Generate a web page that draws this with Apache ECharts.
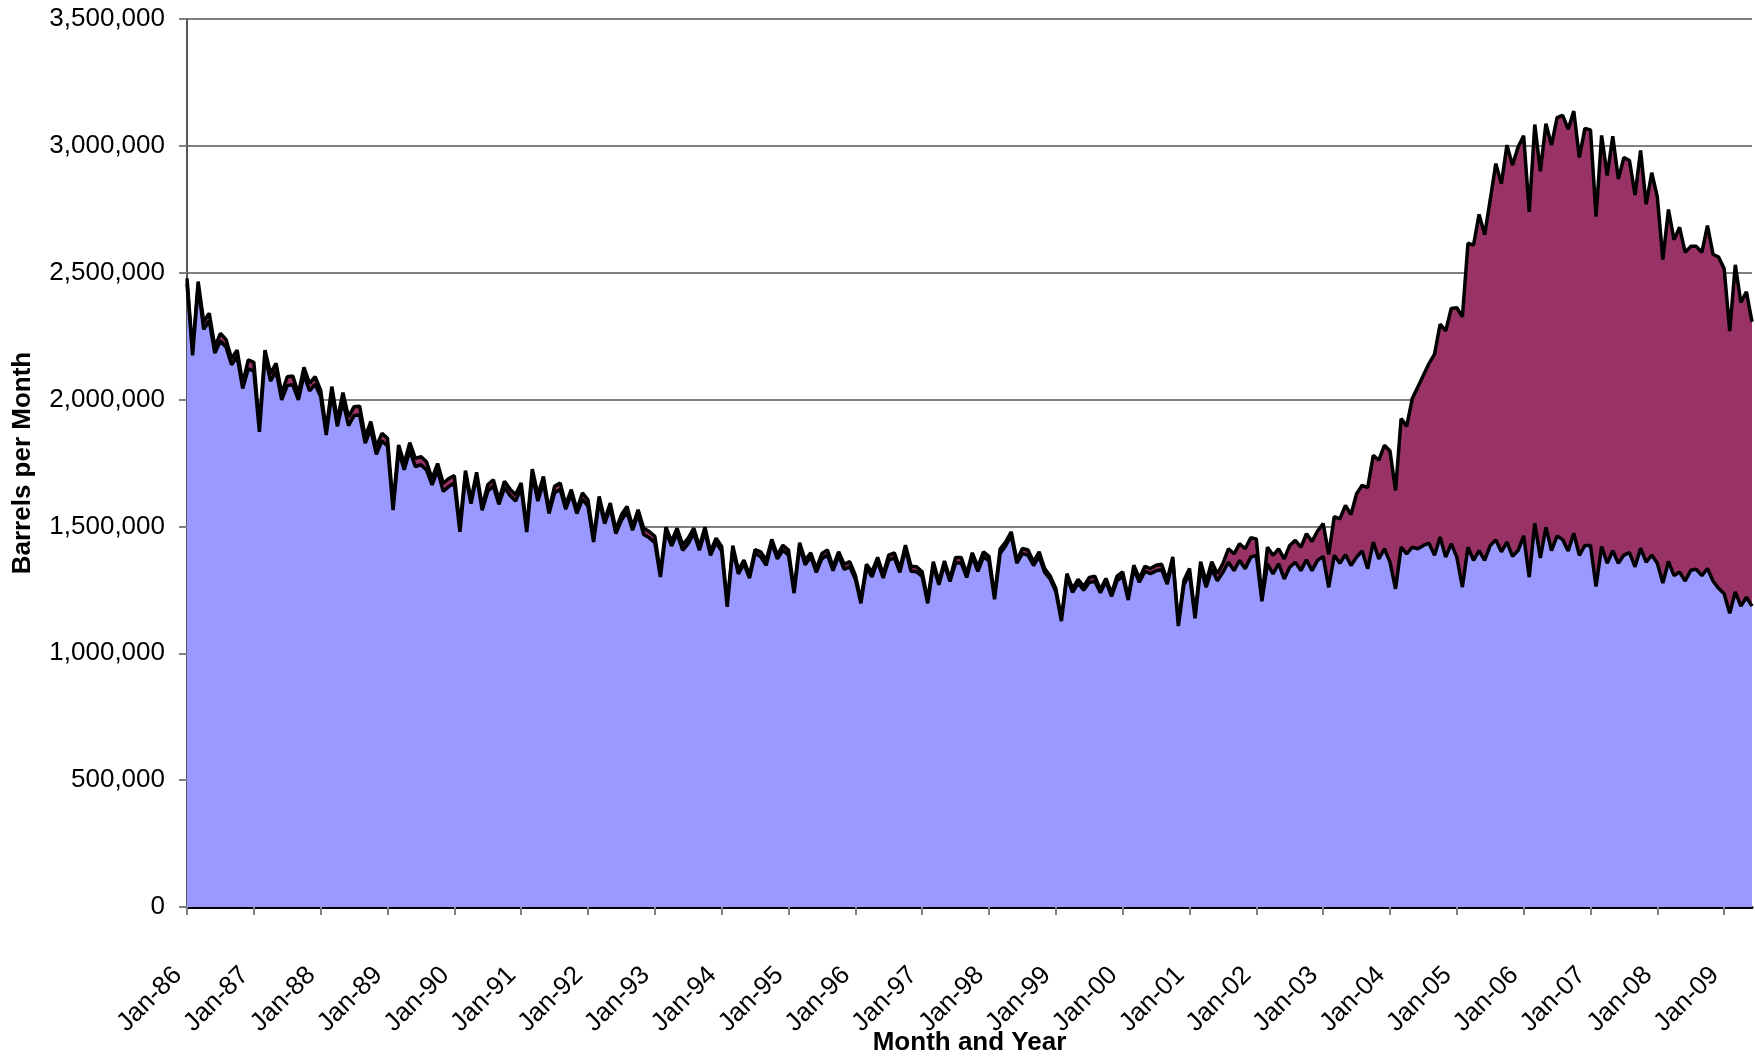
<!DOCTYPE html>
<html>
<head>
<meta charset="utf-8">
<script src="https://cdn.jsdelivr.net/npm/echarts@6/dist/echarts.min.js"></script>
<style>
  html, body { margin: 0; padding: 0; background: #fff; }
  #chart { width: 1755px; height: 1056px; }
</style>
</head>
<body>
<div id="chart"></div>
<script>
// monthly, Jan-86 .. Jun-09
const monthNames = ['Jan', 'Feb', 'Mar', 'Apr', 'May', 'Jun', 'Jul', 'Aug', 'Sep', 'Oct', 'Nov', 'Dec']
const firstYear = 1986
const monthCount = 282

// lower (blue) band, thousand barrels per month
const blueBand = [
  2458, 2174, 2445, 2277, 2310, 2183, 2231, 2207, 2137, 2170, 2044, 2121,
  2112, 1873, 2170, 2073, 2113, 1999, 2055, 2058, 1999, 2097, 2034, 2060,
  2012, 1860, 2026, 1894, 1992, 1897, 1937, 1939, 1828, 1883, 1784, 1837,
  1817, 1564, 1796, 1723, 1798, 1736, 1743, 1723, 1664, 1720, 1638, 1657,
  1670, 1479, 1700, 1590, 1698, 1564, 1639, 1659, 1587, 1653, 1622, 1600,
  1651, 1478, 1701, 1600, 1672, 1551, 1633, 1646, 1568, 1627, 1551, 1607,
  1580, 1439, 1600, 1511, 1574, 1472, 1524, 1557, 1485, 1548, 1468, 1455,
  1436, 1301, 1479, 1423, 1471, 1406, 1432, 1473, 1406, 1479, 1386, 1436,
  1403, 1183, 1409, 1313, 1352, 1296, 1394, 1380, 1347, 1434, 1372, 1406,
  1387, 1237, 1421, 1349, 1381, 1319, 1373, 1387, 1326, 1385, 1331, 1341,
  1293, 1197, 1336, 1301, 1363, 1297, 1367, 1376, 1319, 1411, 1323, 1321,
  1303, 1197, 1346, 1270, 1349, 1283, 1356, 1356, 1299, 1381, 1323, 1380,
  1364, 1213, 1393, 1424, 1464, 1355, 1393, 1387, 1346, 1382, 1319, 1292,
  1243, 1127, 1302, 1240, 1276, 1249, 1279, 1284, 1239, 1283, 1224, 1286,
  1303, 1210, 1332, 1280, 1323, 1314, 1325, 1329, 1273, 1365, 1107, 1270,
  1314, 1138, 1336, 1260, 1331, 1286, 1319, 1359, 1326, 1366, 1333, 1379,
  1386, 1205, 1353, 1313, 1353, 1293, 1339, 1359, 1326, 1368, 1326, 1366,
  1382, 1260, 1386, 1355, 1389, 1346, 1379, 1403, 1333, 1438, 1372, 1412,
  1359, 1254, 1418, 1392, 1418, 1412, 1425, 1434, 1386, 1458, 1379, 1432,
  1379, 1261, 1418, 1366, 1405, 1366, 1425, 1447, 1400, 1438, 1382, 1405,
  1463, 1300, 1512, 1376, 1497, 1405, 1462, 1448, 1403, 1473, 1386, 1425,
  1425, 1263, 1421, 1355, 1404, 1355, 1387, 1397, 1341, 1414, 1359, 1387,
  1355, 1277, 1362, 1306, 1320, 1285, 1327, 1331, 1306, 1334, 1285, 1256,
  1235, 1158, 1242, 1186, 1221, 1186
]

// upper (maroon) band stacked on top, thousand barrels per month
const maroonBand = [
  20, 15, 20, 30, 30, 25, 30, 30, 25, 25, 20, 35,
  35, 20, 25, 30, 30, 25, 35, 35, 25, 30, 30, 30,
  25, 20, 25, 25, 35, 35, 35, 35, 25, 30, 30, 30,
  30, 20, 25, 25, 32, 32, 32, 32, 25, 28, 32, 32,
  30, 20, 20, 15, 15, 15, 25, 25, 18, 25, 25, 25,
  20, 15, 25, 25, 25, 15, 25, 25, 18, 18, 15, 25,
  25, 15, 18, 15, 18, 15, 22, 22, 15, 18, 25, 25,
  25, 15, 18, 18, 22, 22, 22, 20, 15, 18, 15, 18,
  18, 12, 15, 15, 15, 12, 15, 20, 20, 15, 15, 20,
  20, 12, 15, 18, 15, 15, 20, 20, 15, 15, 20, 20,
  15, 12, 15, 20, 15, 15, 20, 20, 15, 15, 20, 20,
  18, 12, 15, 12, 15, 12, 22, 22, 15, 15, 18, 20,
  18, 12, 18, 15, 15, 12, 20, 20, 15, 18, 15, 12,
  12, 10, 12, 15, 15, 15, 20, 20, 12, 12, 12, 18,
  18, 12, 15, 15, 20, 20, 22, 22, 15, 15, 10, 18,
  20, 12, 25, 22, 30, 28, 35, 53, 66, 66, 79, 76,
  65, 15, 65, 73, 59, 79, 86, 86, 92, 103, 115, 116,
  129, 130, 153, 175, 194, 201, 250, 259, 320, 342, 389, 408,
  438, 388, 507, 503, 586, 638, 671, 708, 793, 839, 892, 927,
  983, 1065, 1198, 1243, 1325, 1284, 1363, 1483, 1451, 1565, 1542, 1590,
  1577, 1440, 1572, 1524, 1590, 1598, 1649, 1672, 1663, 1664, 1568, 1644,
  1638, 1458, 1620, 1528, 1634, 1514, 1567, 1545, 1465, 1568, 1411, 1507,
  1444, 1275, 1387, 1324, 1359, 1295, 1277, 1273, 1274, 1352, 1288, 1306,
  1282, 1112, 1289, 1197, 1204, 1120
]

const yTicks = [0, 500000, 1000000, 1500000, 2000000, 2500000, 3000000, 3500000]

const months = []
for (let i = 0; i < monthCount; i++) {
  const y = firstYear + Math.floor(i / 12)
  months.push(monthNames[i % 12] + '-' + String(y % 100).padStart(2, '0'))
}

const font = "'Liberation Sans', Arial, sans-serif"
const chart = echarts.init(document.getElementById('chart'))

chart.setOption({
  animation: false,
  textStyle: { fontFamily: font },
  grid: { left: 187, right: 3, top: 19, bottom: 149, containLabel: false, outerBoundsMode: 'none' },
  xAxis: {
    type: 'category',
    data: months,
    boundaryGap: false,
    name: 'Month and Year',
    nameLocation: 'middle',
    nameGap: 123,
    nameMoveOverlap: false,
    nameTextStyle: { fontSize: 26, fontWeight: 'bold', color: '#000', fontFamily: font },
    axisLine: { lineStyle: { color: '#000', width: 3 } },
    axisTick: { interval: 11, length: 8, lineStyle: { color: '#808080', width: 2 } },
    axisLabel: {
      interval: 11, rotate: 45, fontSize: 26, color: '#000', margin: 55,
      padding: [0, 13, 0, 0], fontFamily: font,
    },
    splitLine: { show: false },
  },
  yAxis: {
    type: 'value',
    min: yTicks[0],
    max: yTicks[yTicks.length - 1],
    interval: 500000,
    name: 'Barrels per Month',
    nameLocation: 'middle',
    nameGap: 151,
    nameMoveOverlap: false,
    nameTextStyle: { fontSize: 26, fontWeight: 'bold', color: '#000', fontFamily: font },
    axisLine: { show: true, lineStyle: { color: '#555', width: 2 } },
    axisTick: { show: true, length: 8, lineStyle: { color: '#808080', width: 2 } },
    axisLabel: {
      fontSize: 26, color: '#000', margin: 22, fontFamily: font,
      formatter: v => v.toLocaleString('en-US'),
    },
    splitLine: { lineStyle: { color: '#808080', width: 2 } },
  },
  series: [
    {
      name: 'lower',
      type: 'line',
      stack: 'total',
      z: 3,
      symbol: 'none',
      data: blueBand.map(v => v * 1000),
      lineStyle: { color: '#000', width: 3.5 },
      areaStyle: { color: '#9999FF', opacity: 1 },
    },
    {
      name: 'upper',
      type: 'line',
      stack: 'total',
      z: 2,
      symbol: 'none',
      data: maroonBand.map(v => v * 1000),
      lineStyle: { color: '#000', width: 3.5 },
      areaStyle: { color: '#993366', opacity: 1 },
    },
  ],
})
</script>
</body>
</html>
